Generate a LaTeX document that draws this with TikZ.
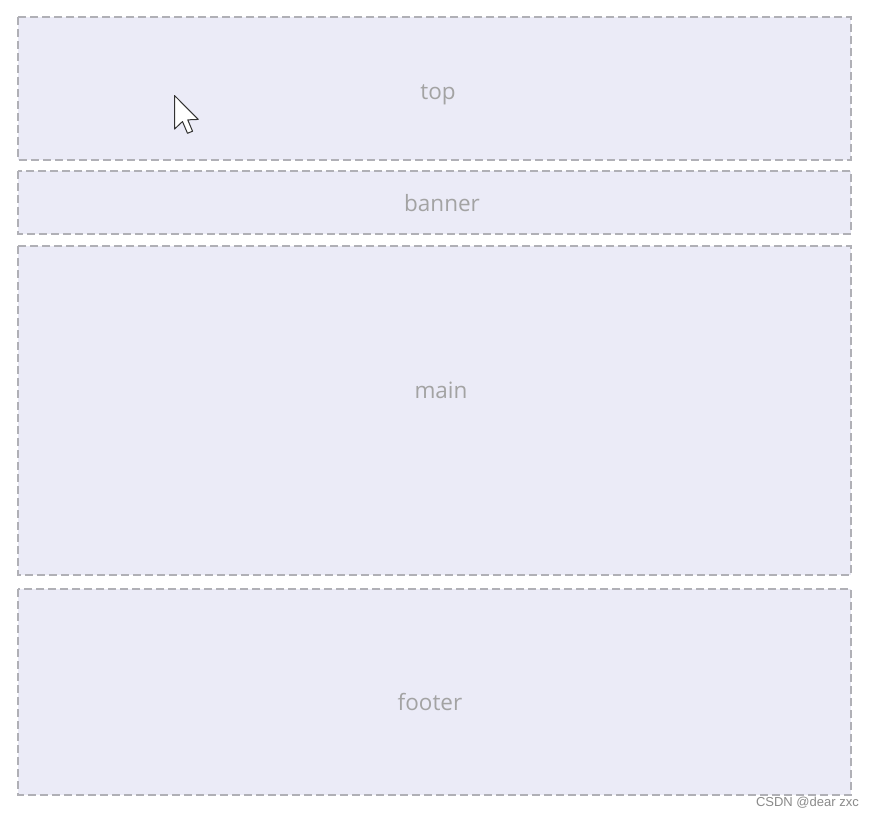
\documentclass[tikz,border=0pt]{standalone}
\usepackage{fontspec}
\setmainfont{Open Sans}
\newfontfamily\wmfont{Liberation Sans}
\definecolor{boxfill}{HTML}{EBEBF7}
\definecolor{boxline}{HTML}{B0B0B6}
\definecolor{labelgray}{HTML}{A3A3A3}
\definecolor{wmgray}{HTML}{8A8A8A}
\begin{document}
\begin{tikzpicture}[x=1pt,y=-1pt,
  region/.style={draw=boxline, fill=boxfill, dash pattern=on 8pt off 4pt, line width=1.4pt},
  lbl/.style={text=labelgray, font=\fontsize{22.5}{26}\selectfont}]
\useasboundingbox (0,0) rectangle (874,818);
\fill[white] (0,0) rectangle (874,818);
\draw[region] (18,17) rectangle (851,160);
\draw[region] (18,171) rectangle (851,234);
\draw[region] (18,246) rectangle (851,575);
\draw[region] (18,589) rectangle (851,795);
\node[lbl] (top) at (438,95) {top};
\node[lbl] (banner) at (442,203) {banner};
\node[lbl] (main) at (441,390) {main};
\node[lbl] (footer) at (430,702) {footer};
\begin{scope}[shift={(174.5,95.5)}, scale=2.1]
\draw[fill=white, draw=black!80, line width=1pt, line join=round]
  (0,0) -- (0,16) -- (3.8,12.4) -- (6.2,18) -- (8.6,17) -- (6.3,11.6) -- (11.3,11.4) -- cycle;
\end{scope}
\node[anchor=east, text=wmgray, font=\wmfont\fontsize{13}{15}\selectfont, inner sep=0pt] (wm) at (859,803) {CSDN @dear zxc};
\end{tikzpicture}
\end{document}
